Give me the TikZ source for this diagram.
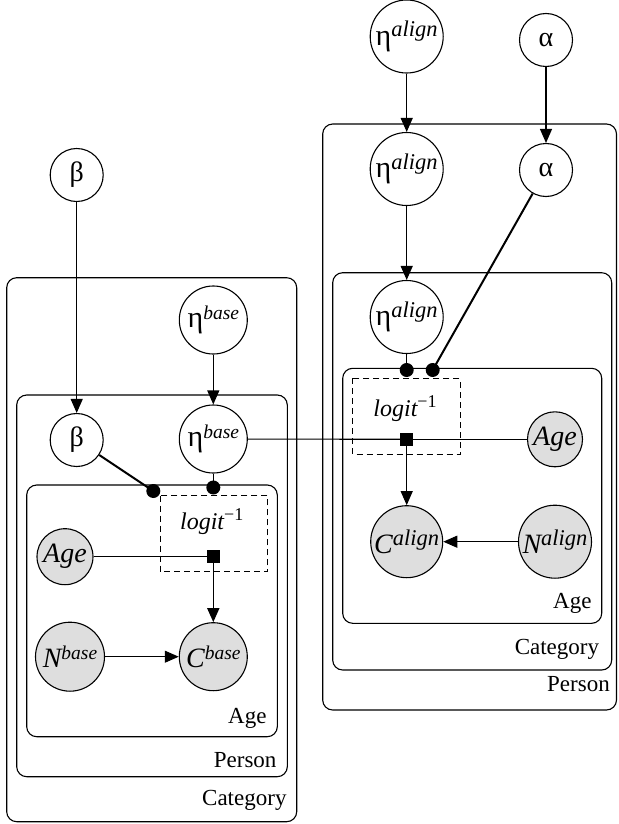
\documentclass[tikz,border=0pt]{standalone}
\usepackage{fontspec}
\setmainfont{Liberation Serif}
\usetikzlibrary{arrows.meta}
\newcommand\nodefont{\fontsize{28}{30}\selectfont}
\newcommand\etafont{\fontsize{30}{32}\selectfont}
\newcommand\platefont{\fontsize{23}{25}\selectfont}
\newcommand\supb[1]{\raisebox{8.5pt}{\fontsize{19.5}{19.5}\selectfont\itshape #1}}
\newcommand\supa[1]{\raisebox{8.5pt}{\fontsize{22.5}{22.5}\selectfont\itshape #1}}
\newcommand\lsups[1]{\raisebox{9pt}{\fontsize{18}{18}\selectfont #1}}
\tikzset{
  latent/.style={circle, draw, fill=white, inner sep=0pt, line width=1.1pt, font=\nodefont},
  obs/.style={latent, fill=black!13},
  plate/.style={draw, rounded corners=10pt, line width=1.1pt},
  platelabel/.style={anchor=base east, inner sep=0pt, font=\platefont},
  conn/.style={line width=1.1pt},
  thickconn/.style={line width=2pt},
  arr/.style={line width=1.1pt, -{Triangle[length=14pt,width=12pt]}},
  dotnode/.style={circle, fill=black, inner sep=0pt, minimum size=14pt},
  sqnode/.style={rectangle, fill=black, inner sep=0pt, minimum size=13pt},
  factorbox/.style={draw, dashed, dash pattern=on 6pt off 4pt, line width=1pt},
  logitlabel/.style={inner sep=0pt, font=\fontsize{24}{26}\selectfont}
}
\begin{document}
\begin{tikzpicture}[x=1pt,y=-1pt]
\useasboundingbox (0,0) rectangle (618,824);
% plates
\draw[plate] (6.7,277.7) rectangle (296.7,821.7);
\draw[plate] (16.7,395) rectangle (287.3,776.7);
\draw[plate] (26.7,485) rectangle (277.3,736.7);
\draw[plate] (322.7,124) rectangle (616.5,710);
\draw[plate] (332.7,272.7) rectangle (611.7,670);
\draw[plate] (342.7,368.3) rectangle (601.7,623.3);
\draw[factorbox] (160,495.7) rectangle (267.7,571.7);
\draw[factorbox] (352.7,378.3) rectangle (460,454.3);
% plate labels
\node[platelabel] (lblAgeL) at (266.7,723) {Age};
\node[platelabel] (lblPersonL) at (276.7,767) {Person};
\node[platelabel] (lblCatL) at (286.7,805) {Category};
\node[platelabel] (lblAgeR) at (591.7,608) {Age};
\node[platelabel] (lblCatR) at (599.3,654) {Category};
\node[platelabel] (lblPersonR) at (610,691.7) {Person};
\node[logitlabel] (logitL) at (211.7,521.7) {\itshape logit\lsups{\upshape −1}};
\node[logitlabel] (logitR) at (405,408.3) {\itshape logit\lsups{\upshape −1}};
% left nodes
\node[latent, minimum size=53pt] (beta0) at (76.7,175) {β};
\node[latent, minimum size=68pt] (ebase0) at (213.3,320) {{\etafont η}\supb{base}};
\node[latent, minimum size=53pt] (beta1) at (76.7,440) {β};
\node[latent, minimum size=68pt] (ebase1) at (213.3,439) {{\etafont η}\supb{base}};
\node[obs, minimum size=56pt] (ageL) at (65,556.7) {\itshape Age};
\node[obs, minimum size=69pt] (nbase) at (70,656.7) {\itshape N\supb{base}};
\node[obs, minimum size=68pt] (cbase) at (213.3,656.7) {\itshape C\supb{base}};
\node[sqnode] (sqL) at (213.3,556.7) {};
% right nodes
\node[latent, minimum size=73pt] (ealign0) at (406.7,36.5) {{\etafont η}\supa{align}};
\node[latent, minimum size=53pt] (alpha0) at (546,40) {α};
\node[latent, minimum size=73pt] (ealign1) at (406.7,169) {{\etafont η}\supa{align}};
\node[latent, minimum size=53pt] (alpha1) at (546,170) {α};
\node[latent, minimum size=73pt] (ealign2) at (406.7,317) {{\etafont η}\supa{align}};
\node[obs, minimum size=55pt] (ageR) at (555,439.3) {\itshape Age};
\node[obs, minimum size=72pt] (calign) at (406.7,541.7) {\itshape C\supa{align}};
\node[obs, minimum size=73pt] (nalign) at (555,541.7) {\itshape N\supa{align}};
\node[sqnode] (sqR) at (406.7,439.3) {};
% dots
\coordinate (dL1) at (153.3,491);
\coordinate (dL2) at (213.3,487.5);
\coordinate (dR1) at (406.7,370);
\coordinate (dR2) at (432.7,370);
% edges
\draw[arr] (beta0) -- (beta1);
\draw[arr] (ebase0) -- (ebase1);
\draw[arr] (ealign0) -- (ealign1);
\draw[arr] (ealign1) -- (ealign2);
\draw[arr] (alpha0) -- (alpha1);
\draw[thickconn] (beta1) -- (dL1);
\draw[conn] (ebase1) -- (dL2);
\draw[conn] (ealign2) -- (dR1);
\draw[thickconn] (alpha1) -- (dR2);
\node[dotnode] (dotL1) at (dL1) {};
\node[dotnode] (dotL2) at (dL2) {};
\node[dotnode] (dotR1) at (dR1) {};
\node[dotnode] (dotR2) at (dR2) {};
\draw[conn] (ageL) -- (sqL);
\draw[arr, line width=1.6pt] (sqL) -- (cbase);
\draw[arr] (nbase) -- (cbase);
\draw[conn] (ebase1) -- (sqR);
\draw[conn] (ageR) -- (sqR);
\draw[arr] (sqR) -- (calign);
\draw[arr] (nalign) -- (calign);
\end{tikzpicture}
\end{document}
